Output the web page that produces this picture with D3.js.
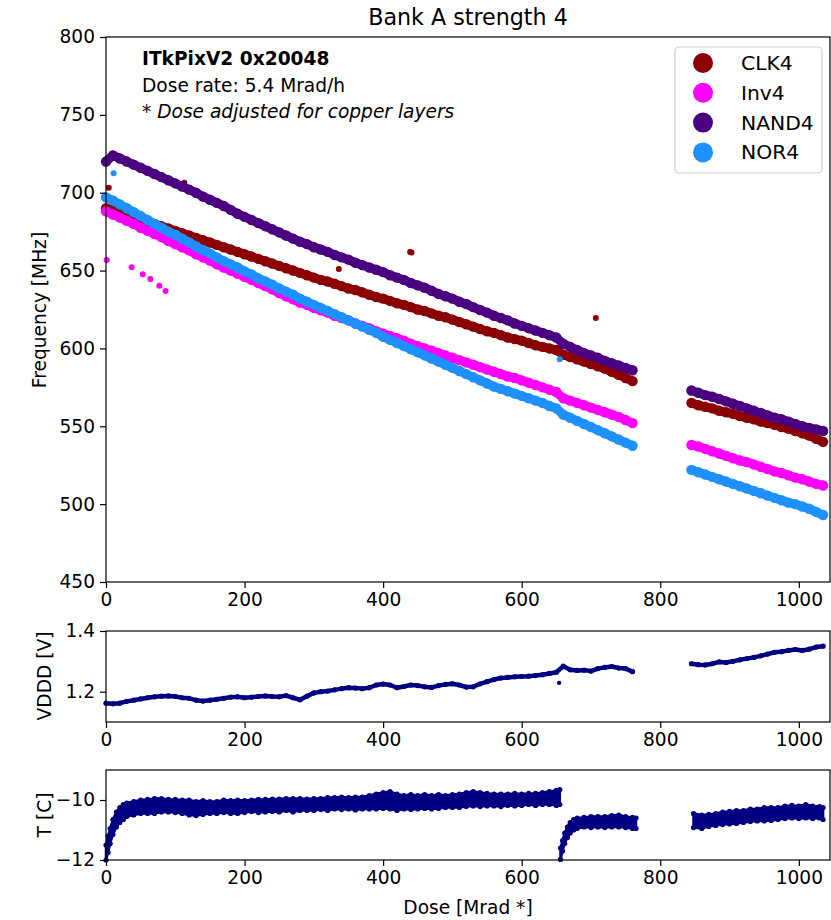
<!DOCTYPE html>
<html>
<head>
<meta charset="utf-8">
<script src="https://cdn.jsdelivr.net/npm/d3@7"></script>
<style>
  body { margin: 0; background: #fff; }
  text { font-family: "DejaVu Sans", sans-serif; fill: #000; }
</style>
</head>
<body>
<svg id="chart" width="831" height="920"></svg>
<script>
// dose readings (Mrad *), one every 10 Mrad across both irradiation runs
var doses = [0,10,20,30,40,50,60,70,80,90,100,110,120,130,140,150,160,170,180,190,
  200,210,220,230,240,250,260,270,280,290,300,310,320,330,340,350,360,370,380,390,
  400,410,420,430,440,450,460,470,480,490,500,510,520,530,540,550,560,570,580,590,
  600,610,620,630,640,650,660,670,680,690,700,710,720,730,740,750,760,
  845,855,865,875,885,895,905,915,925,935,945,955,965,975,985,995,1005,1015,1025,1035];

var seriesNames = ["CLK4", "Inv4", "NAND4", "NOR4"];
var seriesColors = ["#8b0000", "#ff00ff", "#4b0082", "#1e90ff"];

// frequency [MHz]
var clk4 = [690,689,687.5,686,684.5,683,681.5,680,678.5,677,675.5,674,672.5,671,669.5,668,666.5,665,663.5,662,
  660.5,659,657.5,656,654.5,653,651.5,650,648.5,647,645.5,644,643,641.5,640,638.5,637.5,636,634.5,633,
  632,630.5,629,628,626.5,625,624,622.5,621,620,618.5,617,615.5,614,612.5,611,610,608.5,607,606,
  605,603.5,602,601,600,599,596,594.5,593,591.5,590,588.5,587,585,583,581,579,
  565,563.5,562.5,561.5,560,559,558,556.5,555.5,554.5,553,552,551,549.5,548.5,547,545.5,544,542,540];
var inv4 = [688,686,684,682,680,677.5,675.5,673.5,671.5,669,667,665,663,660.5,658.5,656.5,654,652,650,648,
  646,644,642,640,638,635.5,633.5,631.5,629.5,628,626,624.5,623,621,619.5,618,616,614.5,613,611,
  609.5,608,606.5,605,603,601.5,600,598.5,597,595.5,594,592.5,591,589.5,588,586.5,585,583.5,582,581,
  579.5,578,576.5,575,573.5,572,568,566.5,565,563.5,562,560.5,559,557.5,556,554,552,
  538,537,535.5,534,532.5,531,529.5,528,527,525.5,524,522.5,521,520,518.5,517,516,514.5,513,512];
var nand4 = [720,724,722,720,718,716,714,712,710,708,706,704,702,700,697.5,695.5,693.5,691.5,689,686.5,
  684.5,682.5,680.5,678.5,676.5,674.5,672.5,670.5,668.5,667,665,663.5,662,660,658.5,657,655,653.5,652,650.5,
  649,647,645.5,644,642,640.5,639,637,635,633.5,632,630,628.5,626.5,624.7,623,621,619.5,618,616,
  614.5,613,611.5,610,608.5,607,603,601,599,597,595.5,594,592,590.5,589,587.5,586,
  573,571.5,570,569,567.5,566,564.5,563,561.5,560,558.5,557,555.5,554.5,553,551.5,550,549,548,547];
var nor4 = [697,695,692.5,690,687.5,685,682.5,680,677.5,675,673,670.5,668,665.5,663,661,658.5,656,654,652,
  649.5,647.5,645,643,641,638.5,636.5,634.5,632,630,628,626,624,622,620,618,616,614,612,610,
  607.5,605.5,603.5,601.5,599.5,597.5,595.5,593.5,591.5,589.5,587.5,585.5,583.5,581.5,579.5,577.5,575.5,574,572.5,571,
  569.5,568,566.5,565,563,561.5,557.5,555.5,553.5,551.5,549.5,547.5,545.5,543.5,541.5,539.5,537.5,
  522,520.5,519,517.5,516,514.5,513,511.5,510,508.5,507,505.5,504,502.5,501,500,498.5,497,495,493];

// stray readings away from the bands
var clk4OutDose = [4, 113, 336, 439, 441, 707];
var clk4OutVal = [703.2, 706.4, 651, 662, 661.6, 619.5];
var inv4OutDose = [1, 37, 53, 64, 77, 86];
var inv4OutVal = [656.8, 652.1, 647.6, 644.6, 640.3, 636.9];
var nor4OutDose = [11, 655];
var nor4OutVal = [712.5, 593];

// supply voltage VDDD [V]
var vddd = [1.162,1.160,1.162,1.168,1.172,1.176,1.180,1.183,1.185,1.186,1.184,1.180,1.178,1.172,1.169,1.172,1.175,1.178,1.182,1.183,
  1.180,1.182,1.184,1.186,1.184,1.183,1.187,1.180,1.173,1.185,1.196,1.200,1.202,1.206,1.210,1.213,1.212,1.210,1.213,1.222,
  1.225,1.222,1.213,1.217,1.222,1.220,1.216,1.214,1.220,1.224,1.226,1.222,1.215,1.216,1.226,1.233,1.240,1.245,1.247,1.249,
  1.250,1.251,1.253,1.256,1.260,1.264,1.284,1.272,1.270,1.271,1.268,1.276,1.280,1.283,1.278,1.276,1.266,
  1.292,1.289,1.288,1.292,1.298,1.296,1.300,1.305,1.309,1.313,1.318,1.324,1.330,1.332,1.336,1.339,1.336,1.340,1.347,1.350];
var vdddOutDose = [654];
var vdddOutVal = [1.229];

// temperature [C]: lower and upper edge of the scatter band
var tDose = [0,3,6,10,15,20,25,30,40,50,60,70,80,90,100,110,120,130,140,150,160,170,180,190,
  200,210,220,230,240,250,260,270,280,290,300,310,320,330,340,350,360,370,380,390,
  400,410,420,430,440,450,460,470,480,490,500,510,520,530,540,550,560,570,580,590,
  600,610,620,630,640,650,655,
  656,659,662,666,670,675,680,690,700,710,720,730,740,750,760,765,
  848,860,870,880,890,900,910,920,930,940,950,960,970,980,990,1000,1010,1020,1030,1035];
var tLo = [-12.0,-11.75,-11.45,-11.15,-10.9,-10.75,-10.65,-10.55,-10.5,-10.45,-10.45,-10.45,-10.4,-10.4,-10.42,-10.45,-10.5,-10.52,-10.48,-10.45,-10.45,-10.42,-10.45,-10.45,
  -10.42,-10.38,-10.42,-10.4,-10.38,-10.4,-10.35,-10.4,-10.35,-10.35,-10.35,-10.32,-10.35,-10.3,-10.32,-10.3,-10.33,-10.3,-10.3,-10.3,
  -10.28,-10.3,-10.35,-10.3,-10.32,-10.3,-10.28,-10.3,-10.28,-10.25,-10.25,-10.25,-10.22,-10.2,-10.22,-10.2,-10.2,-10.22,-10.18,-10.2,
  -10.18,-10.15,-10.18,-10.15,-10.15,-10.18,-10.15,
  -11.98,-11.7,-11.45,-11.25,-11.1,-11.0,-10.95,-10.9,-10.92,-10.9,-10.92,-10.9,-10.9,-10.92,-10.95,-10.95,
  -10.92,-10.95,-10.88,-10.85,-10.82,-10.8,-10.78,-10.75,-10.72,-10.7,-10.7,-10.68,-10.65,-10.62,-10.6,-10.62,-10.6,-10.62,-10.6,-10.65];
var tHi = [-11.5,-11.2,-10.95,-10.65,-10.4,-10.25,-10.15,-10.1,-10.05,-10.0,-9.98,-9.95,-9.95,-9.98,-9.98,-10.0,-10.0,-10.05,-10.02,-10.05,-10.05,-10.0,-10.02,-10.0,
  -10.02,-10.0,-9.98,-9.98,-9.97,-9.97,-9.95,-9.95,-9.95,-9.97,-9.95,-9.95,-9.92,-9.92,-9.9,-9.92,-9.9,-9.9,-9.85,-9.8,
  -9.75,-9.72,-9.8,-9.85,-9.82,-9.85,-9.82,-9.85,-9.82,-9.85,-9.82,-9.8,-9.75,-9.72,-9.75,-9.78,-9.8,-9.8,-9.8,-9.78,
  -9.8,-9.78,-9.78,-9.75,-9.72,-9.68,-9.65,
  -11.6,-11.35,-11.1,-10.9,-10.75,-10.65,-10.6,-10.58,-10.55,-10.55,-10.55,-10.52,-10.5,-10.55,-10.58,-10.6,
  -10.45,-10.5,-10.48,-10.45,-10.4,-10.38,-10.35,-10.35,-10.3,-10.3,-10.25,-10.25,-10.25,-10.2,-10.18,-10.2,-10.15,-10.2,-10.22,-10.25];
var tBreaks = [656, 800];

var xTicks = [0, 200, 400, 600, 800, 1000];
var freqTicks = [450, 500, 550, 600, 650, 700, 750, 800];
var vdddTicks = [1.2, 1.4];
var tTicks = [-12, -10];

var svg = d3.select("#chart");
var navy = "#000080";
var fontPx = "18.6px";

var x = d3.scaleLinear().domain([0, 1045]).range([106, 830]);
var yF = d3.scaleLinear().domain([450, 800]).range([582, 37]);
var yV = d3.scaleLinear().domain([1.1, 1.4]).range([722, 631]);
var yT = d3.scaleLinear().domain([-12, -9]).range([860, 770]);

function frame(y) {
	var r = y.range();
	svg.append("rect")
		.attr("x", 106).attr("y", r[1])
		.attr("width", 830 - 106).attr("height", r[0] - r[1])
		.attr("fill", "none").attr("stroke", "#000").attr("stroke-width", 1.2);
}

function axes(y, yTicks, yFmt) {
	var r = y.range();
	var gx = svg.append("g")
		.attr("transform", "translate(0," + r[0] + ")")
		.call(d3.axisBottom(x).tickValues(xTicks).tickFormat(d3.format("d")).tickSize(6).tickPadding(5).tickSizeOuter(0));
	var gy = svg.append("g")
		.attr("transform", "translate(106,0)")
		.call(d3.axisLeft(y).tickValues(yTicks).tickFormat(yFmt).tickSize(6).tickPadding(5).tickSizeOuter(0));
	[gx, gy].forEach(function(g){
		g.select(".domain").remove();
		g.selectAll("line").attr("stroke", "#000").attr("stroke-width", 1.2);
		g.selectAll("text").style("font-size", fontPx).attr("fill", "#000")
			.style("font-family", "DejaVu Sans");
	});
}

// split dose list into the two irradiation runs
var runs = [doses.filter(function(d){ return d < 800; }), doses.filter(function(d){ return d > 800; })];

// ---- main panel: frequency ----
var freqData = [clk4, inv4, nand4, nor4];
var outDose = [clk4OutDose, inv4OutDose, null, nor4OutDose];
var outVal = [clk4OutVal, inv4OutVal, null, nor4OutVal];

var pts = svg.append("g");
freqData.forEach(function(vals, s){
	var g = pts.append("g");
	var line = d3.line()
		.x(function(d){ return x(d); })
		.y(function(d){ return yF(vals[doses.indexOf(d)]); });
	runs.forEach(function(run){
		g.append("path").attr("d", line(run)).attr("fill", "none")
			.attr("stroke", seriesColors[s]).attr("stroke-width", 9)
			.attr("stroke-linecap", "round").attr("stroke-linejoin", "round");
	});
	g.selectAll("circle.band")
		.data(doses)
		.enter().append("circle")
		.attr("class", "band")
		.attr("cx", function(d){ return x(d); })
		.attr("cy", function(d, i){ return yF(vals[i]); })
		.attr("r", 5.2)
		.attr("fill", seriesColors[s]);
	if (outDose[s]) {
		var od = outDose[s], ov = outVal[s];
		g.selectAll("circle.out")
			.data(od)
			.enter().append("circle")
			.attr("class", "out")
			.attr("cx", function(d){ return x(d); })
			.attr("cy", function(d, i){ return yF(ov[i]); })
			.attr("r", 3)
			.attr("fill", seriesColors[s]);
	}
});
frame(yF);
axes(yF, freqTicks, d3.format("d"));

svg.append("text").attr("x", 468).attr("y", 25).attr("text-anchor", "middle")
	.style("font-size", "22.2px").text("Bank A strength 4");
svg.append("text").attr("transform", "translate(46,310) rotate(-90)").attr("text-anchor", "middle")
	.style("font-size", fontPx).text("Frequency [MHz]");

svg.append("text").attr("x", 142).attr("y", 65)
	.style("font-size", fontPx).style("font-weight", "bold").text("ITkPixV2 0x20048");
svg.append("text").attr("x", 142).attr("y", 92)
	.style("font-size", fontPx).text("Dose rate: 5.4 Mrad/h");
svg.append("text").attr("x", 142).attr("y", 118)
	.style("font-size", fontPx).html("* <tspan font-style='italic'>Dose adjusted for copper layers</tspan>");

// legend
var leg = svg.append("g");
leg.append("rect").attr("x", 675).attr("y", 47).attr("width", 147).attr("height", 126)
	.attr("rx", 4).attr("fill", "#fff").attr("fill-opacity", 0.8)
	.attr("stroke", "#cccccc").attr("stroke-width", 1.2);
seriesNames.forEach(function(name, i){
	var cy = 63 + i * 29.8;
	leg.append("circle").attr("cx", 703).attr("cy", cy).attr("r", 10).attr("fill", seriesColors[i]);
	leg.append("text").attr("x", 741).attr("y", cy + 7).style("font-size", "20.3px").text(name);
});

// ---- VDDD panel ----
var vLine = d3.line()
	.x(function(d){ return x(d); })
	.y(function(d){ return yV(vddd[doses.indexOf(d)]); });
runs.forEach(function(g){
	svg.append("path").attr("d", vLine(g)).attr("fill", "none")
		.attr("stroke", navy).attr("stroke-width", 4.5).attr("stroke-linejoin", "round").attr("stroke-linecap", "round");
});
svg.append("g").selectAll("circle").data(doses).enter().append("circle")
	.attr("cx", function(d){ return x(d); })
	.attr("cy", function(d, i){ return yV(vddd[i]); })
	.attr("r", 2.6).attr("fill", navy);
svg.append("g").selectAll("circle").data(vdddOutDose).enter().append("circle")
	.attr("cx", function(d){ return x(d); })
	.attr("cy", function(d, i){ return yV(vdddOutVal[i]); })
	.attr("r", 2.2).attr("fill", navy);
frame(yV);
axes(yV, vdddTicks, d3.format(".1f"));
svg.append("text").attr("transform", "translate(51,676) rotate(-90)").attr("text-anchor", "middle")
	.style("font-size", fontPx).text("VDDD [V]");

// ---- temperature panel ----
var tIdx = tDose.map(function(d, i){ return i; });
var tGroups = [
	tIdx.filter(function(i){ return tDose[i] < tBreaks[0]; }),
	tIdx.filter(function(i){ return tDose[i] >= tBreaks[0] && tDose[i] < tBreaks[1]; }),
	tIdx.filter(function(i){ return tDose[i] >= tBreaks[1]; })
];
var tArea = d3.area()
	.x(function(i){ return x(tDose[i]); })
	.y0(function(i){ return yT(tLo[i]); })
	.y1(function(i){ return yT(tHi[i]); });
tGroups.forEach(function(g){
	svg.append("path").attr("d", tArea(g)).attr("fill", navy)
		.attr("stroke", navy).attr("stroke-width", 2.5).attr("stroke-linejoin", "round");
});
[tLo, tHi].forEach(function(arr){
	svg.append("g").selectAll("circle").data(tDose).enter().append("circle")
		.attr("cx", function(d){ return x(d); })
		.attr("cy", function(d, i){ return yT(arr[i]); })
		.attr("r", 2.6).attr("fill", navy);
});
frame(yT);
axes(yT, tTicks, d3.format("d"));
svg.append("text").attr("transform", "translate(51,815) rotate(-90)").attr("text-anchor", "middle")
	.style("font-size", fontPx).text("T [C]");
svg.append("text").attr("x", 468).attr("y", 914).attr("text-anchor", "middle")
	.style("font-size", fontPx).text("Dose [Mrad *]");
</script>
</body>
</html>
